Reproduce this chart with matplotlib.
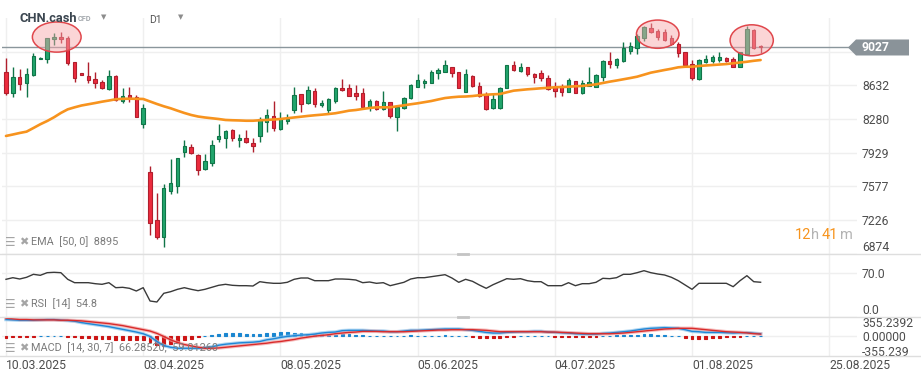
import matplotlib
matplotlib.use("Agg")
import matplotlib.pyplot as plt
import numpy as np
from matplotlib.patches import Ellipse, Polygon
from matplotlib.lines import Line2D
from matplotlib.transforms import IdentityTransform

plt.rcParams['font.family'] = ['Roboto', 'DejaVu Sans']

# daily candles, 10.03.2025 onwards
opens = [8768, 8548, 8716, 8653, 8740, 8907, 8907, 9112, 9133, 9123,
         8872, 8757, 8732, 8701, 8666, 8593, 8729, 8471, 8528, 8507,
         8225, 7730, 7221, 7051, 7525, 7584, 7939, 7991, 7904, 7753,
         7818, 8068, 8082, 8165, 8061, 8085, 8026, 8106, 8252, 8308,
         8173, 8256, 8371, 8538, 8444, 8573, 8423, 8374, 8471, 8601,
         8601, 8548, 8548, 8409, 8468, 8381, 8455, 8298, 8392, 8496,
         8611, 8653, 8653, 8757, 8768, 8820, 8768, 8559, 8732, 8623,
         8528, 8392, 8392, 8601, 8841, 8784, 8820, 8750, 8757, 8705,
         8611, 8611, 8565, 8677, 8548, 8628, 8617, 8722, 8886, 8844,
         8886, 8993, 9018, 9123, 9227, 9199, 9185, 9123, 9060, 8977,
         8851, 8695, 8878, 8889, 8896, 8914, 8903, 8826, 8956, 9209, 9045]
highs = [8914, 8826, 8799, 8810, 8966, 8925, 9125, 9181, 9192, 9147,
         8878, 8760, 8872, 8768, 8687, 8792, 8740, 8601, 8617, 8531,
         8434, 7790, 7505, 7602, 7859, 7875, 8061, 8016, 7915, 7915,
         8061, 8228, 8165, 8173, 8124, 8165, 8079, 8298, 8385, 8468,
         8350, 8332, 8611, 8541, 8625, 8601, 8479, 8496, 8611, 8695,
         8646, 8635, 8601, 8486, 8479, 8573, 8461, 8416, 8513, 8646,
         8750, 8698, 8792, 8816, 8896, 8828, 8771, 8800, 8740, 8669,
         8565, 8555, 8614, 8844, 8886, 8862, 8823, 8764, 8792, 8740,
         8663, 8646, 8705, 8680, 8687, 8823, 8750, 8896, 8983, 8920,
         9084, 9081, 9164, 9251, 9286, 9217, 9217, 9157, 9087, 8983,
         8896, 8903, 8948, 8948, 8977, 8931, 8931, 8980, 9251, 9215, 9050]
lows = [8531, 8513, 8583, 8513, 8729, 8902, 8868, 9053, 9077, 8844,
        8670, 8737, 8659, 8601, 8593, 8583, 8471, 8444, 8461, 8300,
        8183, 7064, 7027, 6944, 7492, 7505, 7887, 7912, 7696, 7748,
        7793, 8040, 7972, 8054, 7991, 8033, 7939, 8043, 8148, 8158,
        8165, 8225, 8346, 8356, 8437, 8409, 8402, 8346, 8450, 8576,
        8520, 8479, 8402, 8367, 8374, 8374, 8294, 8158, 8381, 8489,
        8611, 8607, 8653, 8703, 8768, 8722, 8601, 8559, 8614, 8510,
        8369, 8385, 8389, 8599, 8783, 8768, 8729, 8653, 8677, 8583,
        8513, 8520, 8559, 8552, 8541, 8628, 8611, 8680, 8810, 8810,
        8878, 8959, 8959, 9098, 9175, 9105, 9098, 9053, 8924, 8834,
        8687, 8687, 8862, 8868, 8878, 8878, 8820, 8826, 8948, 9010, 8966]
closes = [8548, 8716, 8642, 8747, 8938, 8920, 9123, 9133, 9112, 8862,
          8705, 8740, 8687, 8653, 8601, 8729, 8479, 8517, 8503, 8304,
          8398, 7191, 7048, 7557, 7609, 7870, 7993, 7922, 7743, 7842,
          8006, 8103, 8150, 8079, 8085, 8043, 8001, 8277, 8322, 8183,
          8277, 8280, 8528, 8434, 8583, 8434, 8444, 8486, 8601, 8580,
          8523, 8523, 8409, 8468, 8381, 8455, 8315, 8409, 8496, 8635,
          8687, 8677, 8771, 8792, 8844, 8757, 8601, 8748, 8623, 8517,
          8381, 8486, 8607, 8841, 8797, 8826, 8747, 8716, 8711, 8590,
          8576, 8565, 8687, 8555, 8653, 8670, 8736, 8886, 8858, 8903,
          9018, 9042, 9147, 9238, 9185, 9133, 9105, 9060, 8966, 8839,
          8705, 8896, 8903, 8924, 8924, 8889, 8826, 8977, 9217, 9018, 9027]

ema50 = [8103, 8118, 8134, 8148, 8186, 8225, 8259, 8298, 8343, 8381,
         8402, 8421, 8434, 8447, 8461, 8473, 8486, 8491, 8492, 8491,
         8489, 8463, 8437, 8413, 8392, 8367, 8343, 8322, 8306, 8296,
         8288, 8280, 8270, 8267, 8265, 8262, 8262, 8267, 8270, 8275,
         8280, 8288, 8296, 8304, 8312, 8319, 8325, 8332, 8340, 8353,
         8367, 8374, 8385, 8395, 8402, 8402, 8402, 8413, 8423, 8434,
         8444, 8456, 8468, 8484, 8499, 8507, 8513, 8515, 8520, 8528,
         8534, 8538, 8541, 8559, 8576, 8583, 8590, 8595, 8601, 8606,
         8611, 8614, 8617, 8622, 8625, 8633, 8642, 8656, 8670, 8682,
         8695, 8708, 8722, 8743, 8764, 8778, 8792, 8805, 8820, 8826,
         8826, 8834, 8839, 8844, 8849, 8854, 8862, 8870, 8878, 8888, 8896]

rsi14 = [59.5, 62.1, 60.0, 62.7, 67.5, 65.9, 70.1, 70.7, 70.1, 59.5,
         54.1, 54.1, 54.1, 52.5, 51.5, 54.1, 46.1, 46.7, 45.1, 40.8,
         46.1, 24.8, 23.2, 37.1, 39.7, 43.5, 46.1, 43.5, 41.3, 43.5,
         46.7, 49.9, 51.5, 49.9, 49.3, 49.3, 48.8, 55.7, 54.1, 53.1,
         53.1, 54.7, 59.5, 61.6, 61.6, 57.3, 57.3, 57.3, 60.0, 60.0,
         59.5, 58.4, 54.1, 55.2, 53.1, 54.1, 49.3, 52.0, 54.7, 60.0,
         62.1, 62.1, 63.7, 65.3, 66.9, 61.6, 54.7, 59.5, 56.3, 50.4,
         45.1, 50.9, 55.7, 60.5, 59.5, 60.5, 57.3, 55.7, 55.7, 49.3,
         49.3, 49.3, 54.1, 49.3, 52.5, 52.5, 54.7, 61.1, 60.5, 62.1,
         67.5, 67.5, 70.1, 73.3, 70.1, 68.0, 66.4, 62.7, 57.3, 50.4,
         43.5, 53.1, 53.1, 53.1, 53.1, 53.1, 47.7, 57.3, 65.3, 55.7, 54.8]

macd_line = [423, 414, 406, 406, 406, 414, 423, 423, 406, 397,
             381, 347, 321, 296, 271, 245, 211, 178, 144, 110,
             68, 0, -127, -228, -271, -296, -296, -296, -296, -279,
             -262, -220, -195, -178, -161, -152, -144, -127, -85, -59,
             -25, 0, 17, 34, 42, 59, 85, 101, 110, 144,
             152, 152, 152, 144, 135, 135, 118, 118, 135, 152,
             152, 161, 169, 178, 186, 186, 186, 169, 152, 127,
             101, 85, 85, 101, 110, 118, 118, 127, 127, 110,
             101, 93, 85, 68, 59, 59, 59, 76, 85, 101,
             118, 135, 161, 186, 203, 211, 220, 211, 203, 169,
             127, 118, 101, 101, 101, 93, 85, 93, 95, 80, 66.3]
signal_line = [457, 440, 423, 423, 414, 414, 414, 414, 406, 406,
               397, 389, 372, 355, 338, 321, 296, 271, 237, 203,
               169, 135, 76, 0, -85, -152, -203, -237, -271, -296,
               -296, -288, -271, -254, -237, -220, -203, -186, -169, -144,
               -127, -101, -76, -42, -17, 8, 25, 42, 68, 85,
               101, 110, 127, 127, 127, 118, 118, 118, 118, 127,
               135, 144, 152, 161, 161, 169, 169, 169, 169, 161,
               152, 135, 118, 118, 118, 118, 118, 118, 118, 110,
               110, 101, 93, 85, 76, 68, 68, 68, 68, 76,
               85, 101, 118, 135, 152, 169, 186, 195, 203, 203,
               203, 186, 169, 152, 135, 118, 110, 101, 88, 70, 59.0]

date_labels = ['10.03.2025', '03.04.2025', '08.05.2025', '05.06.2025',
               '04.07.2025', '01.08.2025', '25.08.2025']
price_ticks = [6874, 7225.6, 7577.2, 7928.8, 8280.4, 8632.0, 8983.6]
price_labels = ['6874', '7226', '7577', '7929', '8280', '8632', '']
macd_ticks = [-355.2392, 0, 355.2392]
macd_labels = ['-355.239', '0.00000', '355.2392']

# circled areas: (centre bar, centre price, width in bars, height in price)
highlights = [(7.4, 9136, 7.1, 315), (95.0, 9166, 6.2, 295), (108.7, 9102, 6.3, 324)]

W, H = 921, 380
fig = plt.figure(figsize=(W / 100, H / 100), dpi=100)


def axes_px(left, top, right, bottom):
    return fig.add_axes([left / W, 1 - bottom / H, (right - left) / W, (bottom - top) / H])


ax = axes_px(2, 18, 857, 254)
ax_rsi = axes_px(2, 254, 857, 316.5)
ax_macd = axes_px(2, 316.5, 857, 355.7)

idx = np.arange(len(closes))
o = np.array(opens, float)
c = np.array(closes, float)
up = c >= o
body_col = np.where(up, '#21a56c', '#ec2b3d')
edge_col = np.where(up, '#107548', '#b01f2d')
date_pos = np.arange(len(date_labels)) * 20
grid_col = '#efefef'

for a in (ax, ax_rsi, ax_macd):
    a.set_xlim(-0.58, 124.05)
    for s in a.spines.values():
        s.set_visible(False)
    a.set_xticks(date_pos)
    a.grid(axis='x', color=grid_col, lw=1)
    a.set_axisbelow(True)
    a.tick_params(axis='both', length=0, labelbottom=False, labelleft=False,
                  labelright=True, labelsize=8.7, labelcolor='#4d4d4d', pad=3.6)
    a.yaxis.tick_right()

# price panel
ax.set_ylim(6870, 9335)
ax.set_yticks(price_ticks)
ax.set_yticklabels(price_labels)
ax.get_yticklabels()[0].set_va('bottom')
ax.grid(axis='y', color=grid_col, lw=1)
ax.vlines(idx, lows, highs, colors=edge_col, lw=1, zorder=2)
ax.bar(idx, np.abs(c - o), bottom=np.minimum(o, c), width=0.5, color=body_col,
       edgecolor=edge_col, linewidth=0.8, zorder=3)
ax.plot(idx, ema50, color='#f7931e', lw=1.9, zorder=4, solid_capstyle='round')
ax.axhline(closes[-1], color='#8a969c', lw=1, zorder=1)
for cx, cy, w, h in highlights:
    ax.add_patch(Ellipse((cx, cy), w, h, fc=(0.97, 0.66, 0.67, 0.48),
                         ec='#e0474c', lw=1.1, zorder=5))

# RSI panel
ax_rsi.set_ylim(0, 100)
ax_rsi.set_yticks([0, 70])
ax_rsi.set_yticklabels(['0.0', '70.0'])
ax_rsi.get_yticklabels()[0].set_va('bottom')
ax_rsi.grid(axis='y', color=grid_col, lw=1)
ax_rsi.plot(idx, rsi14, color='#3a3a3a', lw=1)

# MACD panel
m = np.array(macd_line, float)
s = np.array(signal_line, float)
hist = m - s
ax_macd.set_ylim(-482, 499)
ax_macd.set_yticks(macd_ticks)
ax_macd.set_yticklabels(macd_labels)
ax_macd.axhline(0, color=grid_col, lw=1, zorder=0)
hcol = np.where(hist >= 0, '#1a86d0', '#cc1414')
ax_macd.bar(idx, hist, width=0.42, color=hcol, edgecolor=hcol, linewidth=0.8, zorder=1)
ax_macd.plot(idx, m, color='#8cc4ec', lw=2.5, alpha=0.7, zorder=2)
ax_macd.plot(idx, s, color='#f2a0a0', lw=2.5, alpha=0.7, zorder=2)
ax_macd.plot(idx, m, color='#1f87d6', lw=1, zorder=3)
ax_macd.plot(idx, s, color='#d92b2b', lw=1, zorder=3)
ax_macd.set_xticklabels(date_labels, ha='left')
ax_macd.tick_params(axis='x', labelbottom=True, pad=2.5)

# panel separators and handles
for yy in (254, 316.5, 355.7):
    fig.add_artist(Line2D([0, 1], [1 - yy / H] * 2, transform=fig.transFigure,
                          color='#dedede', lw=1))
for yy in (254, 316.5):
    fig.add_artist(Line2D([458 / W, 468 / W], [1 - yy / H] * 2, transform=fig.transFigure,
                          color='#c4c4c4', lw=2))

# indicator captions
for yy, txt in ((242, 'EMA  [50, 0]  8895'), (304, 'RSI  [14]  54.8'),
                (348, 'MACD  [14, 30, 7]  66.28520,  59.01260')):
    fig.text(5 / W, 1 - yy / H, '☰', fontsize=8.5, color='#a5a5a5', va='center',
             family='DejaVu Sans')
    fig.text(19 / W, 1 - yy / H, '✖', fontsize=8, color='#a5a5a5', va='center',
             family='DejaVu Sans')
    fig.text(31 / W, 1 - yy / H, txt, fontsize=7.8, color='#7b7b7b', va='center')

# header
fig.text(20 / W, 1 - 18 / H, 'CHN.cash', fontsize=9.3, fontweight='bold', color='#3b4650', va='center')
fig.text(78 / W, 1 - 19 / H, 'CFD', fontsize=5.3, fontweight='bold', color='#a3a8ad', va='center')
fig.text(149 / W, 1 - 20 / H, 'D1', fontsize=7.5, color='#555555', va='center')
for xx in (104, 181):
    fig.text(xx / W, 1 - 17 / H, '▼', fontsize=5, color='#8c8c8c', ha='center', va='center',
             family='DejaVu Sans')

# countdown
for xx, txt, col in ((795, '12', '#f7941d'), (811, 'h', '#b3b3b3'),
                     (822, '41', '#f7941d'), (840, 'm', '#b3b3b3')):
    fig.text(xx / W, 1 - 235 / H, txt, fontsize=10.5, color=col, va='center')

# last price tag
yd = ax.transData.transform((0, closes[-1]))[1]
tag = Polygon([(848, yd), (856, yd + 8), (909, yd + 8), (909, yd - 8), (856, yd - 8)],
              closed=True, fc='#8a9399', ec='none', transform=IdentityTransform())
fig.add_artist(tag)
fig.text(861 / W, yd / H, str(closes[-1]), fontsize=8.7, fontweight='bold', color='white',
         va='center')

fig.savefig('out.png', dpi=100)
